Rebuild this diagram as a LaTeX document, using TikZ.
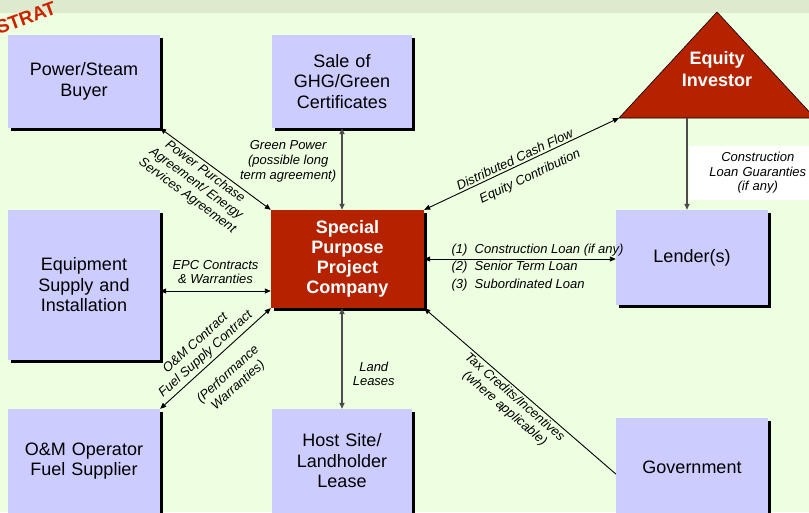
\documentclass[tikz,border=0pt]{standalone}
\usepackage{fontspec}
\setmainfont{Liberation Sans}
\usepackage{tikz}
\usetikzlibrary{arrows.meta, shadows, calc}
\definecolor{Lavender}{RGB}{204,204,255}
\definecolor{BrickRed}{RGB}{180,34,0}
\definecolor{StampRed}{RGB}{204,34,0}
\definecolor{PaleGreen}{RGB}{238,254,224}
\definecolor{BandGreen}{RGB}{222,234,206}
\tikzset{
  >={Triangle[length=6pt, width=5pt]},
  party/.style={
    fill=Lavender,
    minimum width=152pt,
    minimum height=93pt,
    text width=146pt,
    inner sep=0pt,
    align=center,
    font=\fontsize{18}{20.5}\selectfont,
    drop shadow={shadow xshift=3pt, shadow yshift=-3pt, fill=black, opacity=1}
  },
  spvbox/.style={
    party,
    fill=BrickRed,
    text=white,
    font=\bfseries\fontsize{18}{20}\selectfont
  },
  link/.style={line width=0.9pt, black},
  vlink/.style={line width=1.6pt, black!70},
  lbl/.style={text=black, font=\itshape\fontsize{13}{15}\selectfont, align=center, inner sep=2pt}
}
\begin{document}
\begin{tikzpicture}[x=1pt, y=-1pt]
\useasboundingbox (0,0) rectangle (809,512);
\fill[PaleGreen] (0,13) rectangle (809,512);
\fill[BandGreen] (0,0) rectangle (809,13);
\node[rotate=20, inner sep=0pt, text=StampRed, font=\bfseries\fontsize{19}{19}\selectfont] (stamp) at (26,18) {STRAT};

\node[party] (buyer) at (84,81.5) {Power/Steam\\Buyer};
\node[party, minimum width=140pt, text width=134pt] (ghg) at (342,81.5) {Sale of\\GHG/Green\\Certificates};
\node[party, minimum height=150pt] (equip) at (84,285) {Equipment\\Supply and\\Installation};
\node[spvbox, minimum width=153pt, minimum height=98pt] (spv) at (347.5,259) {Special\\Purpose\\Project\\Company};
\node[party, minimum height=95pt] (lender) at (692,257.5) {Lender(s)};
\node[party, minimum height=104pt] (om) at (84,461) {O\&M Operator\\Fuel Supplier};
\node[party, minimum width=140pt, text width=134pt, minimum height=104pt] (host) at (342,461) {Host Site/\\Landholder\\Lease};
\node[party, minimum height=98pt] (gov) at (692,467) {Government};

\coordinate (eqtop) at (717,12);
\coordinate (eqleft) at (619,118);
\coordinate (eqright) at (815,118);
\coordinate (eqbase) at (687,118);
\filldraw[fill=BrickRed, draw=black, line width=0.6pt] (eqtop) -- (eqright) -- (eqleft) -- cycle;
\node[text=white, align=center, font=\bfseries\fontsize{18}{22}\selectfont] (equity) at (717,69) {Equity\\Investor};

\draw[link, <->] (buyer.south east) -- (spv.north west)
  node[lbl, sloped, below, pos=0.45] {Power Purchase\\Agreement/ Energy\\Services Agreement};
\draw[vlink, <->] (ghg.south) -- (ghg.south |- spv.north)
  node[lbl, left=3pt, pos=0.4] {Green Power\\(possible long\\term agreement)};
\draw[link, <->] (spv.north east) -- (eqleft)
  node[lbl, sloped, above, pos=0.48] {Distributed Cash Flow}
  node[lbl, sloped, below=7pt, pos=0.51] {Equity Contribution};
\draw[vlink, ->] (eqbase) -- (eqbase |- lender.north)
  node[lbl, right=1pt, pos=0.6, fill=white, text width=134pt, minimum height=54pt, font=\itshape\fontsize{13}{14.5}\selectfont] {Construction\\Loan Guaranties\\(if any)};
\draw[link, <->] ([yshift=-6pt]equip.east) -- ([yshift=-6pt]equip.east -| spv.west)
  node[lbl, above=5pt, pos=0.5, font=\itshape\fontsize{13}{13.5}\selectfont] {EPC Contracts\\\& Warranties};
\draw[link, <->] (spv.east) -- (spv.east -| lender.west)
  node[lbl, anchor=south west, pos=0.13] {(1)\ \ Construction Loan (if any)}
  node[lbl, anchor=north west, pos=0.13, align=left, font=\itshape\fontsize{13}{18}\selectfont] {(2)\ \ Senior Term Loan\\(3)\ \ Subordinated Loan};
\draw[link, <->] (om.north east) -- (spv.south west)
  node[lbl, sloped, above=1pt, pos=0.47] {O\&M Contract\\Fuel Supply Contract}
  node[lbl, sloped, below=12pt, pos=0.49] {(Performance\\Warranties)};
\draw[vlink, <->] (host.north |- spv.south) -- (host.north)
  node[lbl, right=8pt, pos=0.65, font=\itshape\fontsize{13}{14}\selectfont] {Land\\Leases};
\draw[link, <-] (spv.south east) -- ([yshift=-7pt]gov.west)
  node[lbl, sloped, below=0pt, pos=0.5] {Tax Credits/Incentives\\(where applicable)};
\end{tikzpicture}
\end{document}
